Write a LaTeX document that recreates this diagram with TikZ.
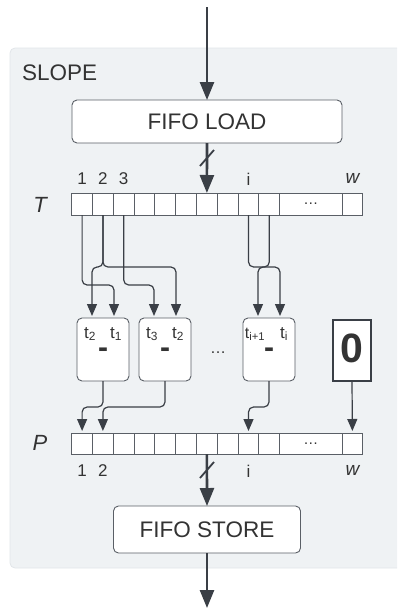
\documentclass[tikz,border=0pt]{standalone}
\usepackage{fontspec}
\setmainfont{Liberation Sans}
\usetikzlibrary{arrows.meta,calc}
\definecolor{ln}{HTML}{3A3F46}
\definecolor{txt}{HTML}{333333}
\definecolor{bg}{HTML}{EFF2F4}
\definecolor{bgb}{HTML}{E1E5E9}
\definecolor{bx}{HTML}{5A5F66}
\begin{document}
\begin{tikzpicture}[x=1pt,y=-1pt,
 every node/.style={text=txt,inner sep=0pt,outer sep=0pt},
 fsz/.style={font=\fontsize{#1}{#1}\selectfont},
 box/.style={draw=bx,line width=0.9pt,fill=white,rounded corners=5pt},
 cell/.style={draw=bx,line width=0.9pt,fill=white,minimum height=22pt,minimum width=20.8pt},
 pcell/.style={cell,minimum height=21pt},
 mainarrow/.style={draw=ln,line width=2.6pt,-{Triangle[length=18pt,width=14pt]}},
 conn/.style={draw=ln,line width=1.2pt,rounded corners=5pt,shorten >=2pt,-{Triangle[length=12pt,width=10pt]}},
 slash/.style={draw=ln,line width=1.8pt},
 ]
\useasboundingbox (0,0) rectangle (397,608);
\clip (0,0) rectangle (397,608);
% container
\draw[fill=bg,draw=bgb,line width=0.8pt,rounded corners=5pt] (10,48) rectangle (420,568);
\node[fsz=22.5,anchor=west] (slope) at (22,73) {SLOPE};
% FIFO LOAD
\coordinate (in) at (207,7);
\node[box,minimum width=270pt,minimum height=43pt,fsz=22.5] (load) at (207,121.5) {FIFO LOAD};
\draw[mainarrow] (in) -- (load.north);
% T array
\foreach \k in {1,...,10} \node[cell] (T\k) at ({82.1+20.8*(\k-1)},204) {};
\node[cell,minimum width=62.3pt,fsz=15] (Td) at (310.9,204) {…};
\node[cell] (Tw) at (352.4,204) {};
\node[fsz=22] (Tlab) at (40,205) {\itshape T};
\node[fsz=17] (t1) at (82.1,179) {1};
\node[fsz=17] (t2) at (102.9,179) {2};
\node[fsz=17] (t3) at (123.7,179) {3};
\node[fsz=17] (ti) at (248.5,179) {i};
\node[fsz=19] (tw) at (352.4,178) {\itshape w};
\draw[mainarrow] (load.south) -- (T7.north);
\draw[slash] (200,166) -- (214,150);
% subtract boxes
\node[box,minimum width=52pt,minimum height=63pt] (B1) at (103,349.5) {};
\node[box,minimum width=52pt,minimum height=63pt] (B2) at (165,349.5) {};
\node[box,minimum width=52pt,minimum height=63pt] (B3) at (269,349.5) {};
\node[draw=ln,line width=1.1pt,fill=white,minimum width=38pt,minimum height=61pt] (Z) at (352,350.5) {};
\node[font=\bfseries\fontsize{41}{41}\selectfont] (zero) at (352,348) {0};
\foreach \b/\l/\r in {B1/2/1,B2/3/2} {
  \node[fsz=17,anchor=base] (\b l) at ($(\b.north)+(-13,20)$) {t\textsubscript{\l}};
  \node[fsz=17,anchor=base] (\b r) at ($(\b.north)+(13,20)$) {t\textsubscript{\r}};
}
\node[fsz=16,anchor=base] (B3l) at ($(B3.north)+(-14,20)$) {t\textsubscript{i+1}};
\node[fsz=17,anchor=base] (B3r) at ($(B3.north)+(15,20)$) {t\textsubscript{i}};
\foreach \b in {B1,B2,B3}
  \node[anchor=base,font=\bfseries\fontsize{30}{30}\selectfont] (\b m) at ($(\b.north)+(0,39)$) {-};
\node[fsz=16] (mdots) at (218,353) {…};
% input points
\foreach \b in {B1,B2,B3} {
  \coordinate (\b inl) at ($(\b.north)+(-11,0)$);
  \coordinate (\b inr) at ($(\b.north)+(11,0)$);
}
\coordinate (yA) at (0,285);
\coordinate (yB) at (0,267);
\coordinate (yC) at (0,407);
\draw[conn] (T1.south) -- (T1.south |- yA) -| (B1inr);
\draw[conn] (T2.south) -- (T2.south |- yB) -| (B1inl);
\draw[conn] (T2.south) -- (T2.south |- yB) -| (B2inr);
\draw[conn] (T3.south) -- (T3.south |- yA) -| (B2inl);
\draw[conn] (T9.south) -- (T9.south |- yB) -| (B3inr);
\draw[conn] (T10.south) -- (T10.south |- yB) -| (B3inl);
% P array
\foreach \k in {1,...,10} \node[pcell] (P\k) at ({82.1+20.8*(\k-1)},443.5) {};
\node[pcell,minimum width=62.3pt,fsz=15] (Pd) at (310.9,443.5) {…};
\node[pcell] (Pw) at (352.4,443.5) {};
\node[fsz=22] (Plab) at (40,443) {\itshape P};
\node[fsz=17] (p1) at (82.1,471) {1};
\node[fsz=17] (p2) at (102.9,471) {2};
\node[fsz=17] (pi) at (248.5,471) {i};
\node[fsz=19] (pw) at (352.4,470) {\itshape w};
\draw[conn] (B1.south) -- (B1.south |- yC) -| (P1.north);
\draw[conn] (B2.south) -- (B2.south |- yC) -| (P2.north);
\draw[conn] (B3.south) -- (B3.south |- yC) -| (P9.north);
\draw[conn] (Z.south) -- (Pw.north);
% FIFO STORE
\node[box,minimum width=187pt,minimum height=47pt,fsz=22.5] (store) at (207,529.5) {FIFO STORE};
\draw[mainarrow] (P7.south) -- (store.north);
\draw[slash] (200,478) -- (214,462);
\coordinate (out) at (207,608);
\draw[mainarrow] (store.south) -- (out);
\end{tikzpicture}
\end{document}
